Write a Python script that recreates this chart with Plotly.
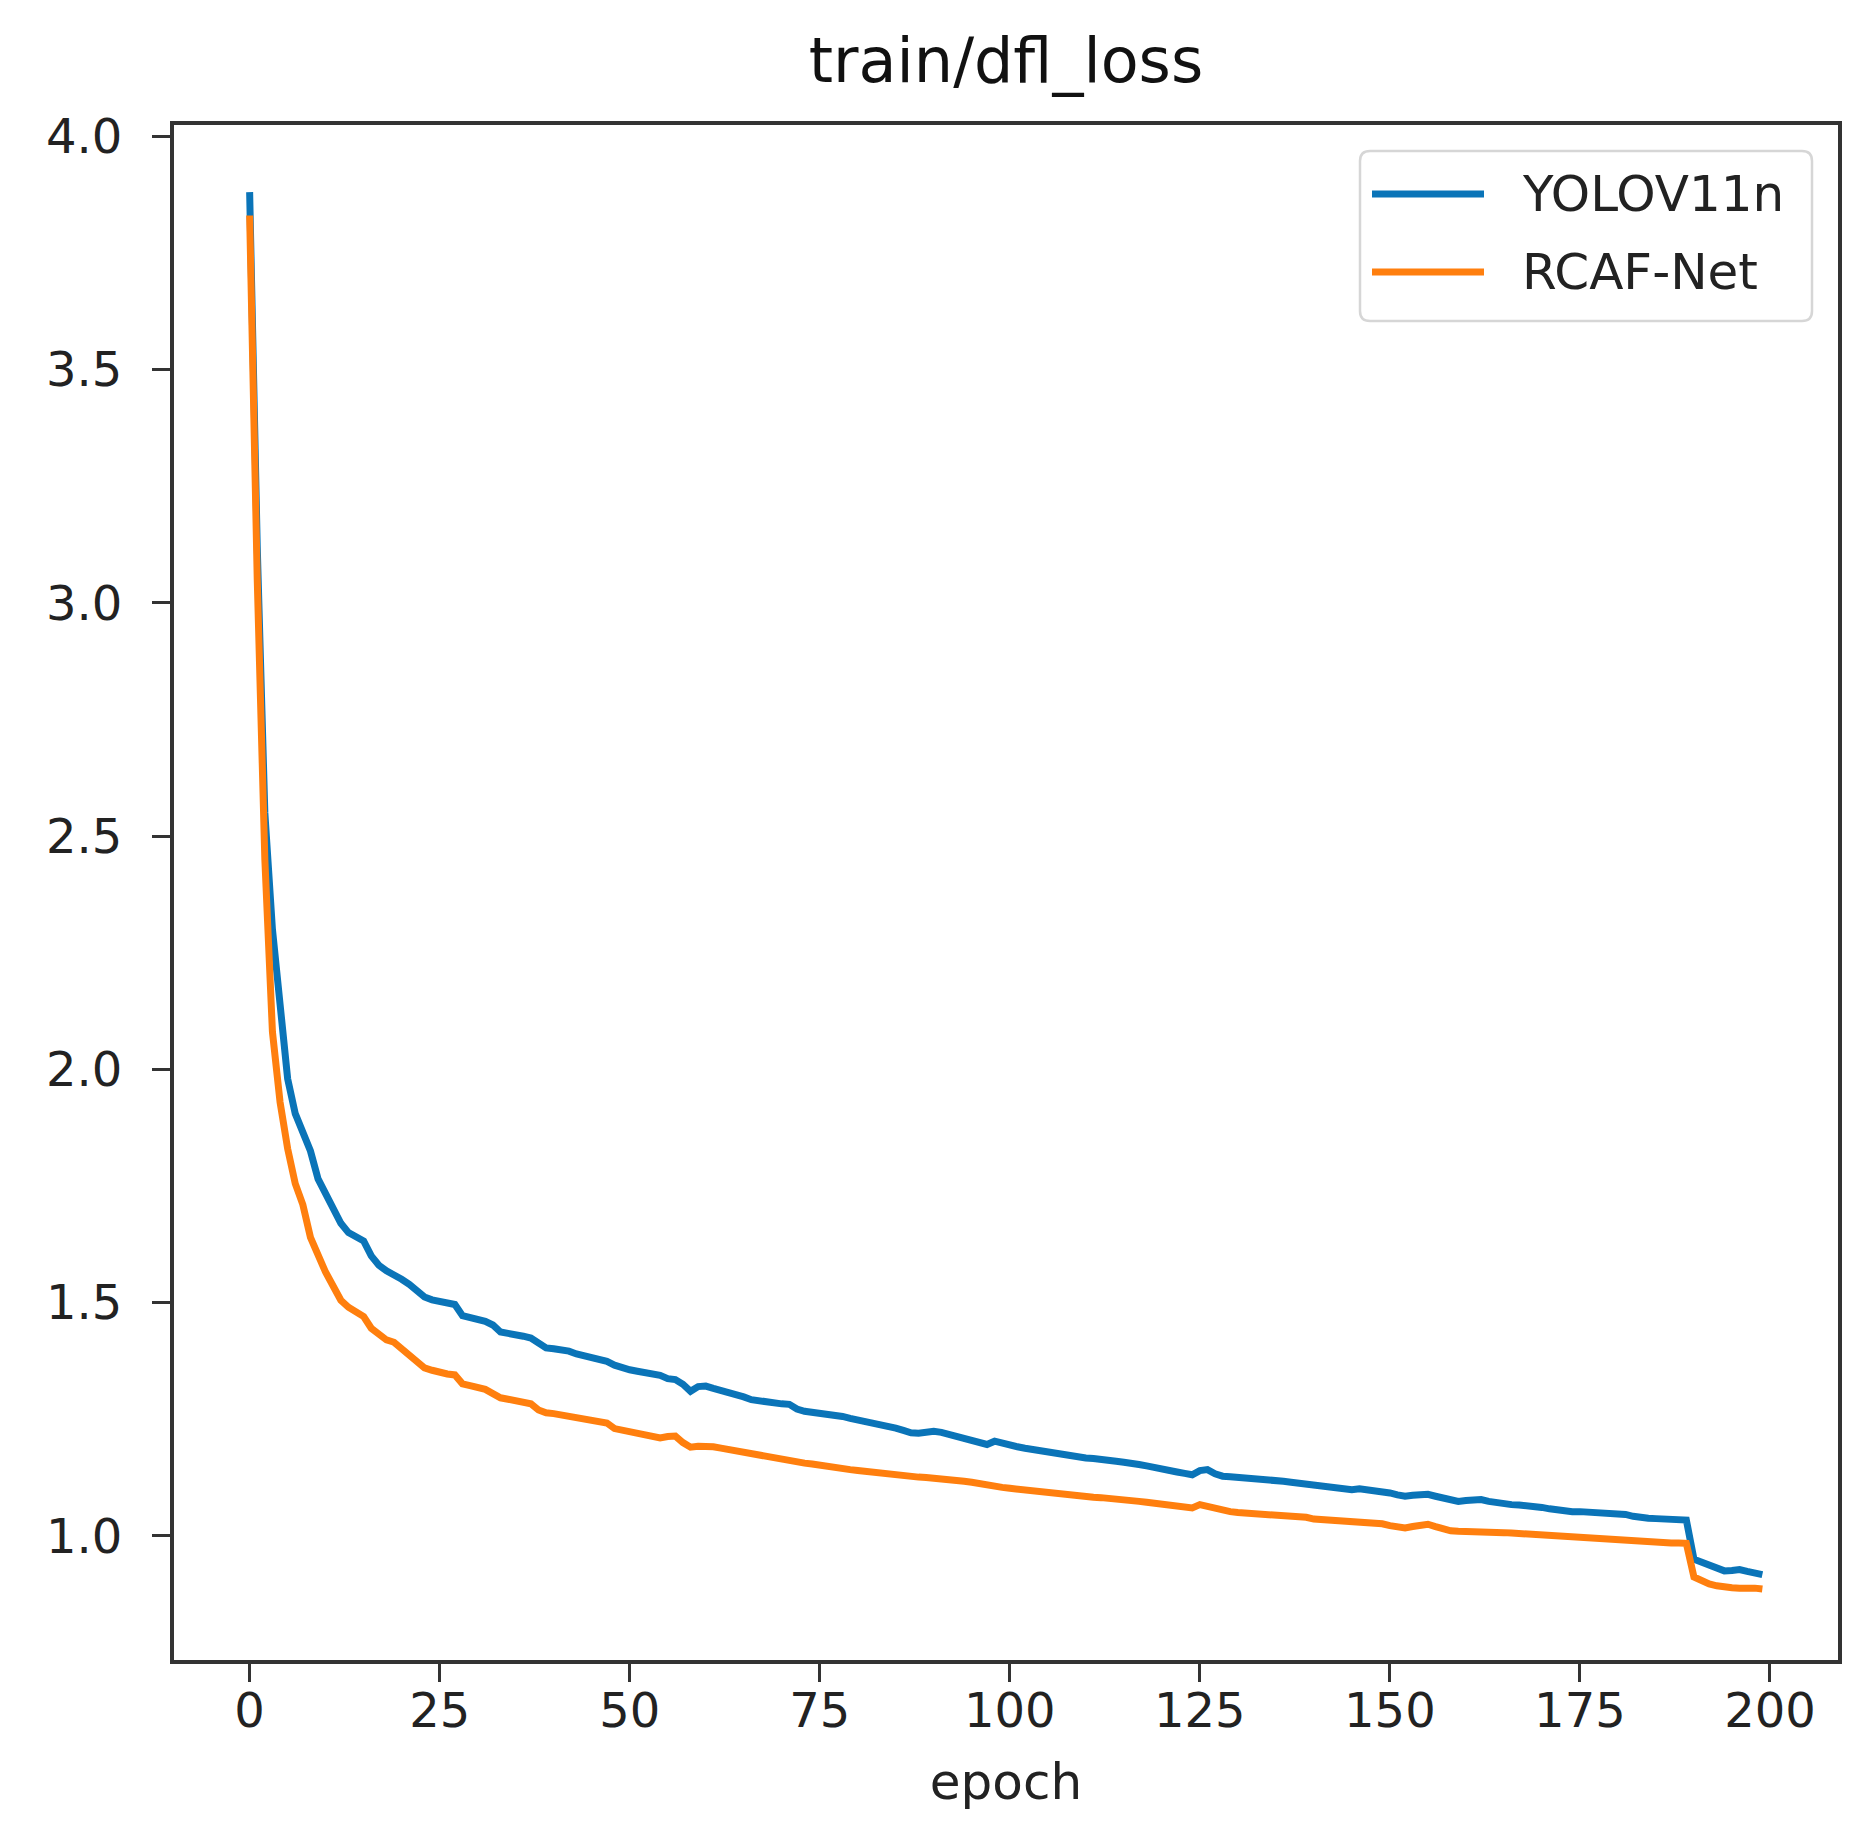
import plotly.graph_objects as go

epochs = list(range(200))

yolov11n = [
    3.88, 3.12, 2.55, 2.30, 2.14, 1.98, 1.905, 1.86, 1.825, 1.765,
    1.735, 1.70, 1.67, 1.65, 1.64, 1.632, 1.60, 1.58, 1.568, 1.56,
    1.55, 1.539, 1.527, 1.512, 1.506, 1.502, 1.498, 1.496, 1.472, 1.468,
    1.464, 1.460, 1.452, 1.437, 1.434, 1.432, 1.428, 1.424, 1.415, 1.403,
    1.401, 1.399, 1.396, 1.390, 1.386, 1.382, 1.378, 1.374, 1.366, 1.360,
    1.356, 1.353, 1.350, 1.347, 1.344, 1.337, 1.335, 1.325, 1.310, 1.320,
    1.321, 1.316, 1.312, 1.307, 1.303, 1.298, 1.292, 1.289, 1.287, 1.284,
    1.283, 1.282, 1.272, 1.267, 1.265, 1.263, 1.261, 1.260, 1.256, 1.252,
    1.249, 1.245, 1.242, 1.238, 1.235, 1.231, 1.226, 1.221, 1.220, 1.222,
    1.224, 1.222, 1.218, 1.214, 1.210, 1.206, 1.200, 1.196, 1.203, 1.198,
    1.194, 1.191, 1.188, 1.185, 1.183, 1.180, 1.177, 1.174, 1.171, 1.169,
    1.167, 1.166, 1.165, 1.164, 1.160, 1.158, 1.157, 1.153, 1.150, 1.146,
    1.143, 1.140, 1.137, 1.134, 1.131, 1.140, 1.142, 1.133, 1.128, 1.127,
    1.126, 1.125, 1.123, 1.122, 1.121, 1.119, 1.117, 1.115, 1.113, 1.111,
    1.108, 1.106, 1.104, 1.102, 1.100, 1.099, 1.101, 1.099, 1.099, 1.096,
    1.092, 1.088, 1.085, 1.087, 1.088, 1.089, 1.085, 1.081, 1.077, 1.074,
    1.076, 1.078, 1.078, 1.074, 1.071, 1.068, 1.067, 1.066, 1.065, 1.064,
    1.061, 1.058, 1.055, 1.053, 1.052, 1.052, 1.051, 1.050, 1.050, 1.049,
    1.048, 1.046, 1.042, 1.039, 1.038, 1.037, 1.036, 1.036, 1.035, 1.034,
    0.950, 0.944, 0.938, 0.932, 0.925, 0.926, 0.928, 0.924, 0.921, 0.917,
]

rcaf_net = [
    3.83, 3.05, 2.45, 2.08, 1.93, 1.83, 1.755, 1.71, 1.64, 1.60,
    1.565, 1.535, 1.505, 1.49, 1.48, 1.47, 1.445, 1.43, 1.42, 1.415,
    1.40, 1.389, 1.372, 1.360, 1.355, 1.350, 1.347, 1.345, 1.326, 1.322,
    1.318, 1.314, 1.305, 1.296, 1.293, 1.290, 1.287, 1.283, 1.270, 1.264,
    1.262, 1.259, 1.256, 1.253, 1.250, 1.247, 1.245, 1.242, 1.230, 1.227,
    1.224, 1.220, 1.217, 1.212, 1.210, 1.213, 1.214, 1.200, 1.190, 1.192,
    1.193, 1.191, 1.188, 1.185, 1.182, 1.179, 1.176, 1.172, 1.168, 1.166,
    1.163, 1.160, 1.157, 1.156, 1.154, 1.151, 1.148, 1.146, 1.144, 1.142,
    1.140, 1.138, 1.135, 1.133, 1.132, 1.130, 1.128, 1.127, 1.126, 1.125,
    1.124, 1.122, 1.120, 1.119, 1.117, 1.115, 1.112, 1.107, 1.106, 1.104,
    1.102, 1.100, 1.098, 1.096, 1.094, 1.093, 1.091, 1.089, 1.087, 1.085,
    1.084, 1.083, 1.082, 1.081, 1.079, 1.077, 1.076, 1.074, 1.072, 1.070,
    1.068, 1.066, 1.064, 1.062, 1.060, 1.067, 1.063, 1.058, 1.054, 1.052,
    1.050, 1.049, 1.048, 1.047, 1.046, 1.045, 1.044, 1.043, 1.043, 1.040,
    1.036, 1.035, 1.034, 1.033, 1.032, 1.031, 1.030, 1.029, 1.028, 1.026,
    1.022, 1.019, 1.017, 1.020, 1.024, 1.025, 1.020, 1.015, 1.011, 1.010,
    1.010, 1.009, 1.008, 1.008, 1.007, 1.007, 1.006, 1.005, 1.003, 1.001,
    0.999, 0.998, 0.997, 0.996, 0.995, 0.994, 0.993, 0.993, 0.992, 0.991,
    0.990, 0.989, 0.987, 0.986, 0.986, 0.985, 0.985, 0.985, 0.985, 0.984,
    0.912, 0.903, 0.897, 0.893, 0.890, 0.889, 0.888, 0.889, 0.888, 0.886,
]

series_names = ["YOLOV11n", "RCAF-Net"]
series_colors = ["#0a74b8", "#ff7f0e"]
x_ticks = [0, 25, 50, 75, 100, 125, 150, 175, 200]
y_ticks = [1.0, 1.5, 2.0, 2.5, 3.0, 3.5, 4.0]

FONT = "DejaVu Sans"
AX = "#333333"

W, H = 1864, 1824
ML, MR, MT, MB = 166, 34, 117, 172
PW, PH = W - ML - MR, H - MT - MB


def px(x):
    return (x - ML) / PW


def py(y):
    return 1 - (y - MT) / PH


fig = go.Figure()
for name, vals, col in zip(series_names, [yolov11n, rcaf_net], series_colors):
    fig.add_trace(go.Scatter(x=epochs, y=vals, mode="lines", name=name,
                             showlegend=False,
                             line=dict(color=col, width=7)))

# legend box (matplotlib-style, rounded corners) drawn in paper coordinates
bx0, bx1, by0, by1, r = 1352, 1804, 143, 313, 10
x0, x1, y0, y1 = px(bx0), px(bx1), py(by0), py(by1)
rx, ry = r / PW, r / PH
path = (f"M {x0 + rx},{y0} L {x1 - rx},{y0} Q {x1},{y0} {x1},{y0 - ry} "
        f"L {x1},{y1 + ry} Q {x1},{y1} {x1 - rx},{y1} L {x0 + rx},{y1} "
        f"Q {x0},{y1} {x0},{y1 + ry} L {x0},{y0 - ry} Q {x0},{y0} {x0 + rx},{y0} Z")
shapes = [dict(type="path", path=path, xref="paper", yref="paper",
               fillcolor="rgba(255,255,255,0.8)", line=dict(color="#d6d6d6", width=2.5),
               layer="above")]
annotations = []
entry_y = [186, 264]
for name, col, ey in zip(series_names, series_colors, entry_y):
    shapes.append(dict(type="line", xref="paper", yref="paper",
                       x0=px(1364), x1=px(1476), y0=py(ey), y1=py(ey),
                       line=dict(color=col, width=7), layer="above"))
    annotations.append(dict(text=name, xref="paper", yref="paper",
                            x=px(1512), y=py(ey), xanchor="left", yanchor="middle",
                            showarrow=False,
                            font=dict(family=FONT, size=50, color="#222222")))

fig.update_layout(
    width=W, height=H,
    margin=dict(l=ML, r=MR, t=MT, b=MB),
    paper_bgcolor="white", plot_bgcolor="white",
    font=dict(family=FONT, color="#222222"),
    showlegend=False,
    title=dict(text="train/dfl_loss", x=0.5, xref="paper", xanchor="center",
               y=1 - 52 / H, yref="container", yanchor="middle",
               font=dict(family=FONT, size=62, color="#111111")),
    shapes=shapes,
    annotations=annotations,
)

fig.update_xaxes(
    range=[-9.95, 208.95], tickmode="array", tickvals=x_ticks,
    ticktext=[str(t) for t in x_ticks],
    showgrid=False, zeroline=False,
    showline=True, mirror=True, linecolor=AX, linewidth=4,
    ticks="outside", ticklen=18, tickwidth=3, tickcolor=AX,
    ticklabelstandoff=-13,
    tickfont=dict(family=FONT, size=48, color="#222222"),
    title=dict(text="epoch", font=dict(family=FONT, size=50, color="#222222"),
               standoff=28),
)
fig.update_yaxes(
    range=[0.734, 4.024], tickmode="array", tickvals=y_ticks,
    ticktext=[f"{t:.1f}" for t in y_ticks],
    showgrid=False, zeroline=False,
    showline=True, mirror=True, linecolor=AX, linewidth=4,
    ticks="outside", ticklen=18, tickwidth=3, tickcolor=AX,
    ticklabelstandoff=20,
    tickfont=dict(family=FONT, size=48, color="#222222"),
)

fig.write_html("out.html")
